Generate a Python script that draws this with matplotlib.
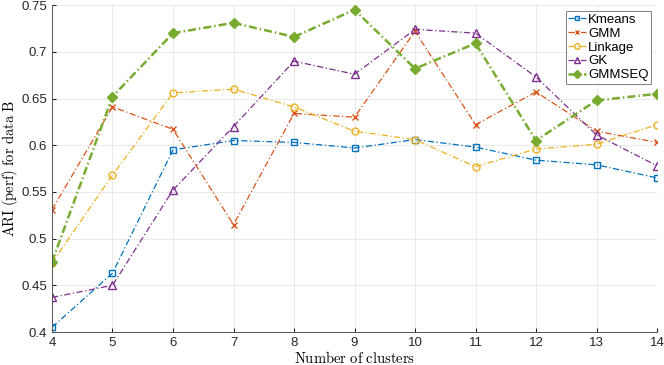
import matplotlib
matplotlib.use("Agg")
import matplotlib.pyplot as plt

# data
clusters = [4, 5, 6, 7, 8, 9, 10, 11, 12, 13, 14]
kmeans = [0.405, 0.463, 0.595, 0.605, 0.603, 0.597, 0.606, 0.598, 0.584, 0.579, 0.565]
gmm = [0.531, 0.641, 0.617, 0.515, 0.634, 0.630, 0.722, 0.622, 0.657, 0.615, 0.603]
linkage = [0.474, 0.568, 0.656, 0.660, 0.641, 0.615, 0.606, 0.577, 0.596, 0.601, 0.622]
gk = [0.437, 0.450, 0.552, 0.620, 0.690, 0.676, 0.724, 0.720, 0.673, 0.611, 0.578]
gmmseq = [0.475, 0.652, 0.720, 0.731, 0.716, 0.745, 0.682, 0.709, 0.605, 0.648, 0.655]
yticks = [0.4, 0.45, 0.5, 0.55, 0.6, 0.65, 0.7, 0.75]
ytick_labels = ["0.4", "0.45", "0.5", "0.55", "0.6", "0.65", "0.7", "0.75"]

plt.rcParams["font.family"] = ["Liberation Sans", "DejaVu Sans"]
plt.rcParams["mathtext.fontset"] = "cm"

fig = plt.figure(figsize=(6.64, 3.65), dpi=100)
ax = fig.add_axes([0.0783, 0.0904, 0.9112, 0.8956])

thin = (0, (5, 2, 1, 2))
ax.plot(clusters, kmeans, color="#0072BD", linestyle=thin, linewidth=0.9,
        marker="s", markersize=4, markerfacecolor="none", label="Kmeans")
ax.plot(clusters, gmm, color="#D95319", linestyle=thin, linewidth=0.9,
        marker="x", markersize=4, label="GMM")
ax.plot(clusters, linkage, color="#EDB120", linestyle=thin, linewidth=0.9,
        marker="o", markersize=5, markerfacecolor="none", label="Linkage")
ax.plot(clusters, gk, color="#7E2F8E", linestyle=thin, linewidth=0.9,
        marker="^", markersize=6, markerfacecolor="none", label="GK")
ax.plot(clusters, gmmseq, color="#77AC30", linestyle=(0, (3.2, 1.2, 0.6, 1.2)),
        linewidth=1.8, marker="D", markersize=5, label="GMMSEQ")

ax.set_xlim(4, 14)
ax.set_ylim(0.4, 0.75)
ax.set_xticks(clusters)
ax.set_yticks(yticks)
ax.set_yticklabels(ytick_labels)
ax.tick_params(direction="in", labelsize=9.5, colors="#262626", length=3)
ax.grid(color="#E6E6E6", linewidth=0.6)
ax.set_axisbelow(True)
for s in ["top", "right"]:
    ax.spines[s].set_visible(False)
for s in ["bottom", "left"]:
    ax.spines[s].set_color("#555555")
    ax.spines[s].set_linewidth(0.7)

ax.set_xlabel(r"$\mathrm{Number\ of\ clusters}$", fontsize=10.5, labelpad=1)
ax.set_ylabel(r"$\mathrm{ARI\ (perf)\ for\ data\ B}$", fontsize=10.5, labelpad=1)

leg = ax.legend(loc="upper right", fontsize=9.5, fancybox=False, framealpha=1,
                edgecolor="#808080", handlelength=1.35, handletextpad=0.15,
                borderpad=0.2, labelspacing=0.12, borderaxespad=0.45,
                markerscale=0.8)
leg.get_frame().set_linewidth(0.7)

fig.savefig("out.png", dpi=100)
